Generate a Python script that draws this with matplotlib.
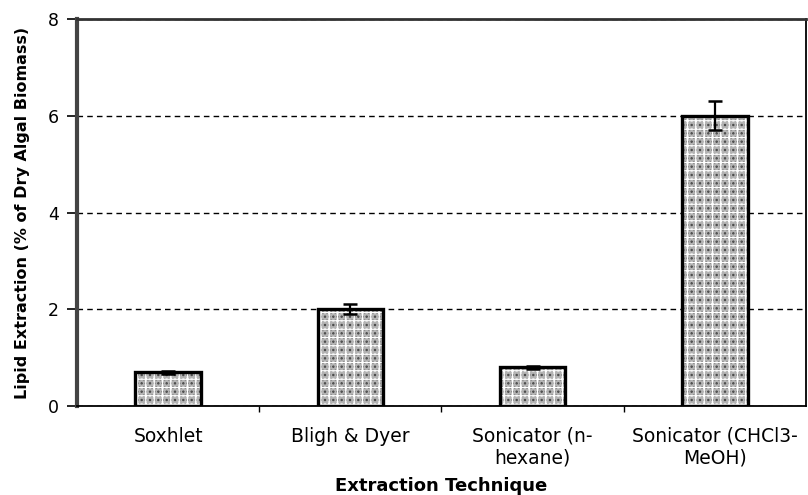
import numpy as np
import matplotlib
matplotlib.use("Agg")
import matplotlib.pyplot as plt

plt.rcParams['font.family'] = ['DejaVu Sans']
plt.rcParams['hatch.linewidth'] = 1.1

techniques = ["Soxhlet", "Bligh & Dyer", "Sonicator (n-\nhexane)", "Sonicator (CHCl3-\nMeOH)"]
lipid_pct = [0.70, 2.0, 0.80, 6.0]
lipid_err = [0.03, 0.10, 0.03, 0.30]

fig = plt.figure(figsize=(8.08, 4.95), dpi=100)
ax = fig.add_axes([0.0953, 0.1798, 0.9022, 0.7818])

x = np.arange(len(techniques))
w = 0.36
# grey stipple base, white grid overlay, then black outline
ax.bar(x, lipid_pct, width=w, color="#b4b4b4", edgecolor="#404040", hatch="....", linewidth=0, zorder=3)
ax.bar(x, lipid_pct, width=w, fill=False, edgecolor="white", hatch="++", linewidth=0, zorder=4)
ax.bar(x, lipid_pct, width=w, fill=False, edgecolor="black", linewidth=2.4, zorder=5)
ax.errorbar(x, lipid_pct, yerr=lipid_err, fmt="none", ecolor="black", elinewidth=1.6, capsize=5, capthick=1.8, zorder=6)

ax.set_xlim(-0.5, len(techniques) - 0.5)
ax.set_ylim(0, 8)
ax.set_yticks([0, 2, 4, 6, 8])
ax.yaxis.grid(True, linestyle=(0, (4, 3)), color="black", linewidth=1.0, zorder=1)
ax.set_axisbelow(True)

ax.set_xticks(x)
ax.set_xticklabels(techniques, fontsize=13.5, linespacing=1.15)
ax.tick_params(axis="x", which="major", length=0, pad=15)
ax.set_xticks(np.arange(0.5, len(techniques) - 0.5, 1), minor=True)
ax.tick_params(axis="x", which="minor", length=4, width=1, direction="out")
ax.tick_params(axis="y", length=7, width=1.2, labelsize=12.5, pad=6, direction="out")

for s in ["right", "bottom"]:
    ax.spines[s].set_linewidth(1.3)
ax.spines["top"].set_linewidth(2.0)
ax.spines["top"].set_color("#333333")
ax.spines["left"].set_linewidth(3)
ax.spines["left"].set_color("#444444")

ax.set_ylabel("Lipid Extraction (% of Dry Algal Biomass)", fontsize=11.5, fontweight="bold", labelpad=13)
ax.set_xlabel("Extraction Technique", fontsize=13, fontweight="bold", labelpad=7)

fig.savefig("out.png", dpi=100)
